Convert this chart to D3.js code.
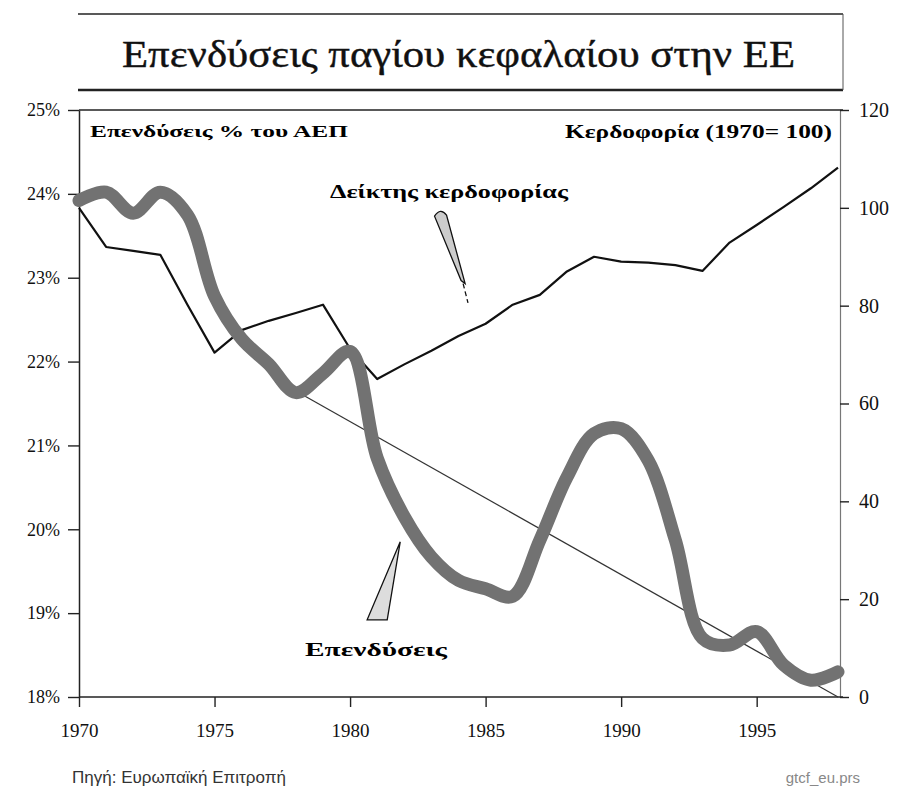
<!DOCTYPE html>
<html>
<head>
<meta charset="utf-8">
<script src="https://cdn.jsdelivr.net/npm/d3@7"></script>
<style>
  body { margin: 0; background: #fff; }
  svg { display: block; }
  .serif { font-family: "Liberation Serif", "DejaVu Serif", serif; }
</style>
</head>
<body>
<svg id="chart" width="903" height="792"></svg>
<script>
    // data
    var years = [1970, 1971, 1972, 1973, 1974, 1975, 1976, 1977, 1978, 1979,
                 1980, 1981, 1982, 1983, 1984, 1985, 1986, 1987, 1988, 1989,
                 1990, 1991, 1992, 1993, 1994, 1995, 1996, 1997, 1998];
    // investment, % of GDP (left axis)
    var investment = [23.92, 24.02, 23.77, 24.02, 23.75, 22.78, 22.27, 21.97, 21.63, 21.86,
                      22.12, 20.85, 20.15, 19.67, 19.39, 19.29, 19.2, 19.87, 20.62, 21.14,
                      21.2, 20.82, 19.87, 18.7, 18.62, 18.78, 18.38, 18.2, 18.3];
    // profitability index, 1970 = 100 (right axis)
    var profit = [100, 92, 91.2, 90.4, 80.2, 70.4, 75, 76.9, 78.5, 80.2,
                  71.2, 65, 68, 70.8, 73.8, 76.3, 80.2, 82.2, 87, 90,
                  89, 88.8, 88.3, 87.1, 92.9, 96.5, 100.2, 104, 108.2];
    // straight trend line through investment
    var trendYears = [1978, 1998];
    var trendValues = [21.65, 18.0];

    var leftTicks = [18, 19, 20, 21, 22, 23, 24, 25];
    var rightTicks = [0, 20, 40, 60, 80, 100, 120];
    var yearTicks = [1970, 1975, 1980, 1985, 1990, 1995];

    var svg = d3.select("#chart");

    var x = d3.scaleLinear().domain([1970, 1998]).range([79, 838]);
    var yL = d3.scaleLinear().domain([18, 25]).range([697, 110]);
    var yR = d3.scaleLinear().domain([0, 120]).range([697, 110]);

    // title box
    var title = svg.append("g");
    title.append("line").attr("x1", 78).attr("x2", 843).attr("y1", 14).attr("y2", 14)
      .attr("stroke", "#222").attr("stroke-width", 1.5);
    title.append("line").attr("x1", 78).attr("x2", 843).attr("y1", 90).attr("y2", 90)
      .attr("stroke", "#222").attr("stroke-width", 2.5);
    title.append("line").attr("x1", 843).attr("x2", 843).attr("y1", 14).attr("y2", 90)
      .attr("stroke", "#555").attr("stroke-width", 1);
    title.append("text").attr("class", "serif")
      .attr("x", 122).attr("y", 67)
      .attr("font-size", 38)
      .attr("stroke", "#111").attr("stroke-width", 0.4)
      .attr("textLength", 673).attr("lengthAdjust", "spacingAndGlyphs")
      .attr("fill", "#111")
      .text("Επενδύσεις παγίου κεφαλαίου στην ΕΕ");

    // top frame line of the plot
    svg.append("line").attr("x1", 79).attr("x2", 843).attr("y1", 110).attr("y2", 110)
      .attr("stroke", "#222").attr("stroke-width", 1.5);

    // axes
    var axL = svg.append("g").attr("transform", "translate(79,0)")
      .call(d3.axisLeft(yL).tickValues(leftTicks).tickSize(11).tickSizeOuter(0).tickPadding(8)
        .tickFormat(function(d) { return d + "%"; }));
    var axR = svg.append("g").attr("transform", "translate(840,0)")
      .call(d3.axisRight(yR).tickValues(rightTicks).tickSize(9).tickSizeOuter(0).tickPadding(10));
    var axB = svg.append("g").attr("transform", "translate(0,697)")
      .call(d3.axisBottom(x).tickValues(yearTicks).tickSize(10).tickSizeOuter(0).tickPadding(17)
        .tickFormat(d3.format("d")));

    [axL, axR, axB].forEach(function(ax) {
      ax.selectAll("text").attr("class", "serif").attr("fill", "#111");
      ax.selectAll("line").attr("stroke", "#222").attr("stroke-width", 1.4);
      ax.select(".domain").attr("stroke", "#222").attr("stroke-width", 1.5);
    });
    axL.selectAll("text").attr("font-size", 18);
    axR.selectAll("text").attr("font-size", 20);
    axR.select(".domain").attr("stroke", "#777").attr("stroke-width", 1.2);
    axB.selectAll("text").attr("font-size", 19);
    axB.select(".domain").attr("d", "M79,0H843");

    // trend line
    svg.append("line")
      .attr("x1", x(trendYears[0])).attr("y1", yL(trendValues[0]))
      .attr("x2", x(trendYears[1])).attr("y2", yL(trendValues[1]))
      .attr("stroke", "#333").attr("stroke-width", 1.2);

    // profitability line
    var profitLine = d3.line()
      .x(function(d, i) { return x(years[i]); })
      .y(function(d) { return yR(d); });
    svg.append("path").datum(profit)
      .attr("d", profitLine)
      .attr("fill", "none").attr("stroke", "#111").attr("stroke-width", 2.2)
      .attr("stroke-linejoin", "round");

    // investment line, thick and smoothed
    var invLine = d3.line()
      .x(function(d, i) { return x(years[i]); })
      .y(function(d) { return yL(d); })
      .curve(d3.curveCatmullRom.alpha(0.5));
    svg.append("path").datum(investment)
      .attr("d", invLine)
      .attr("fill", "none").attr("stroke", "#727272").attr("stroke-width", 13)
      .attr("stroke-linejoin", "round").attr("stroke-linecap", "round");

    // in-plot captions
    svg.append("text").attr("class", "serif")
      .attr("x", 90).attr("y", 137).attr("font-size", 17).attr("font-weight", "bold")
      .attr("textLength", 258).attr("lengthAdjust", "spacingAndGlyphs")
      .text("Επενδύσεις % του ΑΕΠ");
    svg.append("text").attr("class", "serif")
      .attr("x", 565).attr("y", 138).attr("font-size", 18).attr("font-weight", "bold")
      .attr("textLength", 267).attr("lengthAdjust", "spacingAndGlyphs")
      .text("Κερδοφορία (1970= 100)");
    svg.append("text").attr("class", "serif")
      .attr("x", 330).attr("y", 198).attr("font-size", 18).attr("font-weight", "bold")
      .attr("textLength", 238).attr("lengthAdjust", "spacingAndGlyphs")
      .text("Δείκτης κερδοφορίας");
    svg.append("text").attr("class", "serif")
      .attr("x", 305).attr("y", 656).attr("font-size", 18).attr("font-weight", "bold")
      .attr("textLength", 142).attr("lengthAdjust", "spacingAndGlyphs")
      .text("Επενδύσεις");

    // callout for profitability: narrow balloon tail
    var pTop = [x(1983.3), yL(23.77)], pEnd = [x(1984.17), yL(22.93)], pTip = [x(1984.35), yL(22.7)];
    svg.append("path")
      .attr("d", "M" + (pTop[0] - 5) + "," + (pTop[1] + 3) +
        " Q" + (pTop[0] + 1) + "," + (pTop[1] - 6) + " " + (pTop[0] + 7) + "," + (pTop[1] + 2) +
        " L" + (pEnd[0] + 2) + "," + pEnd[1] +
        " L" + (pEnd[0] - 2) + "," + (pEnd[1] - 3) + " Z")
      .attr("fill", "#ccc").attr("stroke", "#111").attr("stroke-width", 1.3);
    svg.append("line")
      .attr("x1", pEnd[0]).attr("y1", pEnd[1]).attr("x2", pTip[0]).attr("y2", pTip[1])
      .attr("stroke", "#111").attr("stroke-width", 1.3).attr("stroke-dasharray", "5,3");

    // callout for investment: triangle
    var tri = [[x(1980.63), yL(18.92)], [x(1981.37), yL(18.92)], [x(1981.85), yL(19.85)]];
    svg.append("path")
      .attr("d", "M" + tri.map(function(p) { return p.join(","); }).join("L") + "Z")
      .attr("fill", "#ddd").attr("stroke", "#111").attr("stroke-width", 1.3);

    // footer
    svg.append("text")
      .attr("x", 72).attr("y", 783)
      .attr("font-family", "Liberation Sans, Arial, sans-serif").attr("font-size", 17)
      .attr("fill", "#333")
      .text("Πηγή: Ευρωπαϊκή Επιτροπή");
    svg.append("text")
      .attr("x", 860).attr("y", 783).attr("text-anchor", "end")
      .attr("font-family", "Liberation Sans, Arial, sans-serif").attr("font-size", 15)
      .attr("fill", "#888")
      .text("gtcf_eu.prs");
</script>
</body>
</html>
